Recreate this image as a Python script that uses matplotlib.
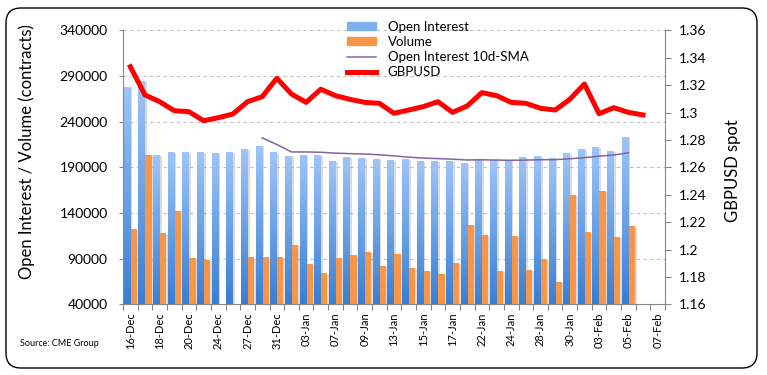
import numpy as np
import matplotlib
matplotlib.use('Agg')
import matplotlib.pyplot as plt
from matplotlib.colors import LinearSegmentedColormap
from matplotlib.patches import Patch, FancyBboxPatch
from matplotlib.lines import Line2D
import matplotlib.patheffects as pe

nan = np.nan

dates = ['16-Dec', '17-Dec', '18-Dec', '19-Dec', '20-Dec', '21-Dec', '24-Dec', '26-Dec',
         '27-Dec', '28-Dec', '31-Dec', '02-Jan', '03-Jan', '04-Jan', '07-Jan', '08-Jan',
         '09-Jan', '10-Jan', '13-Jan', '14-Jan', '15-Jan', '16-Jan', '17-Jan', '18-Jan',
         '22-Jan', '23-Jan', '24-Jan', '25-Jan', '28-Jan', '29-Jan', '30-Jan', '31-Jan',
         '03-Feb', '04-Feb', '05-Feb', '06-Feb', '07-Feb']

open_interest = [278200, 284500, 203500, 206700, 206700, 206700, 205600, 206700,
                 210000, 213300, 206700, 202400, 203500, 203500, 196900, 201300,
                 200200, 199100, 198000, 199100, 196900, 196900, 196900, 194700,
                 199100, 198000, 198000, 201300, 202400, 200200, 205600, 210000,
                 212200, 207800, 223100, nan, nan]

volume = [122400, 203500, 118000, 142100, 90700, 88500, nan, nan,
          91800, 91800, 91800, 104900, 84100, 74300, 90700, 94000,
          97300, 81900, 95100, 79700, 76400, 73200, 85200, 126800,
          115900, 76400, 114800, 77500, 89600, 64400, 159700, 119200,
          164000, 113700, 125700, nan, nan]

oi_sma = [nan] * 9 + [222200, 215000, 206800, 206800, 206500, 205500, 205000, 204500,
                      203700, 202500, 201100, 200100, 199500, 198900, 198000, 198200,
                      197900, 197700, 197900, 198300, 198400, 199300, 200600, 202200,
                      203500, 205900] + [nan, nan]

gbpusd = [1.3334, 1.3128, 1.3079, 1.3013, 1.3006, 1.2940, 1.2962, 1.2989,
          1.3079, 1.3115, 1.3250, 1.3135, 1.3074, 1.3170, 1.3123, 1.3096,
          1.3074, 1.3067, 1.2994, 1.3018, 1.3043, 1.3079, 1.3001, 1.3048,
          1.3145, 1.3123, 1.3074, 1.3067, 1.3031, 1.3018, 1.3096, 1.3208,
          1.2991, 1.3035, 1.3001, 1.2982, nan]

plt.rcParams['font.family'] = ['Lato', 'DejaVu Sans']

fig = plt.figure(figsize=(7.67, 3.75), dpi=100)
ax = fig.add_axes([0.1604, 0.1885, 0.7066, 0.7307])
ax2 = ax.twinx()
ax.set_zorder(1)
ax2.set_zorder(2)
ax.patch.set_visible(False)
ax2.patch.set_visible(False)

y_min, y_max = 40000, 340000
x = np.arange(len(dates))
w = 0.45
blue_grad = LinearSegmentedColormap.from_list('oi', ['#3A7ED2', '#9EC5F8'])
shadow = [pe.SimplePatchShadow(offset=(1.5, -1), shadow_rgbFace='#999999', alpha=0.35), pe.Normal()]

bars_oi = ax.bar(x - w / 2, open_interest, width=w, color='#7EB0EE', zorder=2,
                 path_effects=shadow)
bars_vol = ax.bar(x + w / 2, volume, width=w, color='#F79646', zorder=2,
                  path_effects=shadow)

# gradient fill for the open interest bars (only the visible part above the axis floor)
grad = np.linspace(0, 1, 100).reshape(-1, 1)
for b in bars_oi:
    h = b.get_height()
    if not np.isfinite(h):
        continue
    x0 = b.get_x()
    im = ax.imshow(grad, extent=[x0, x0 + b.get_width(), y_min, b.get_y() + h], origin='lower',
                   aspect='auto', cmap=blue_grad, zorder=2.1, interpolation='bilinear')
    im.set_clip_path(b)

ax.plot(x, oi_sma, color='#8064A2', lw=1.1, zorder=3)
ax2.plot(x, gbpusd, color='#FF0000', lw=3.6, solid_joinstyle='round', zorder=3)

ax.set_xlim(-0.5, len(dates) - 0.5)
ax.set_ylim(y_min, y_max)
ax.set_yticks(np.arange(y_min, y_max + 1, 50000))
ax.set_yticklabels([str(v) for v in range(y_min, y_max + 1, 50000)])
ax2.set_ylim(1.16, 1.36)
r_ticks = np.round(np.arange(1.16, 1.3601, 0.02), 2)
ax2.set_yticks(r_ticks)
ax2.set_yticklabels(['%g' % v for v in r_ticks])

ax.yaxis.grid(True, linestyle=(0, (3, 3)), color='#C0C0C0', lw=0.8)
ax.set_axisbelow(True)

# category boundary ticks, labels on every other category
ax.set_xticks(np.arange(-0.5, len(dates), 1))
ax.set_xticklabels([])
ax.set_xticks(x[::2], minor=True)
ax.set_xticklabels(dates[::2], minor=True, rotation=90, fontsize=8)
ax.tick_params(axis='x', which='major', length=4, color='#868686')
ax.tick_params(axis='x', which='minor', length=0, pad=6)
ax.tick_params(axis='y', length=3, color='#868686', labelsize=10, pad=8)
ax2.tick_params(axis='y', length=4, color='#868686', labelsize=10, pad=6)

for a in (ax, ax2):
    a.spines['top'].set_visible(False)
    for s in ('left', 'right', 'bottom'):
        a.spines[s].set_color('#868686')
ax.spines['right'].set_visible(False)
ax2.spines['left'].set_visible(False)
ax2.spines['bottom'].set_visible(False)

fig.text(27 / 767, 0.597, 'Open Interest / Volume (contracts)', rotation=90,
         ha='center', va='center', fontsize=12)
fig.text(733 / 767, 0.545, 'GBPUSD spot', rotation=90, ha='center', va='center', fontsize=12)
fig.text(20 / 767, 1 - 344 / 375, 'Source: CME Group', fontsize=6.5, va='center')

handles = [Patch(color='#7EB0EE'), Patch(color='#F79646'),
           Line2D([], [], color='#8064A2', lw=1.1), Line2D([], [], color='#FF0000', lw=3.6)]
labels = ['Open Interest', 'Volume', 'Open Interest 10d-SMA', 'GBPUSD']
fig.legend(handles, labels, loc='upper left', bbox_to_anchor=(340 / 767, 1 - 14 / 375),
           frameon=False, fontsize=9.5, handlelength=2.2, handleheight=0.6,
           labelspacing=0.25, borderpad=0, handletextpad=0.9)

border = FancyBboxPatch((0.06, 0.07), 7.51, 3.60, boxstyle='round,pad=0,rounding_size=0.15',
                        transform=fig.dpi_scale_trans, fill=False, edgecolor='black', lw=1.0)
fig.patches.append(border)

fig.savefig('out.png', dpi=100)
